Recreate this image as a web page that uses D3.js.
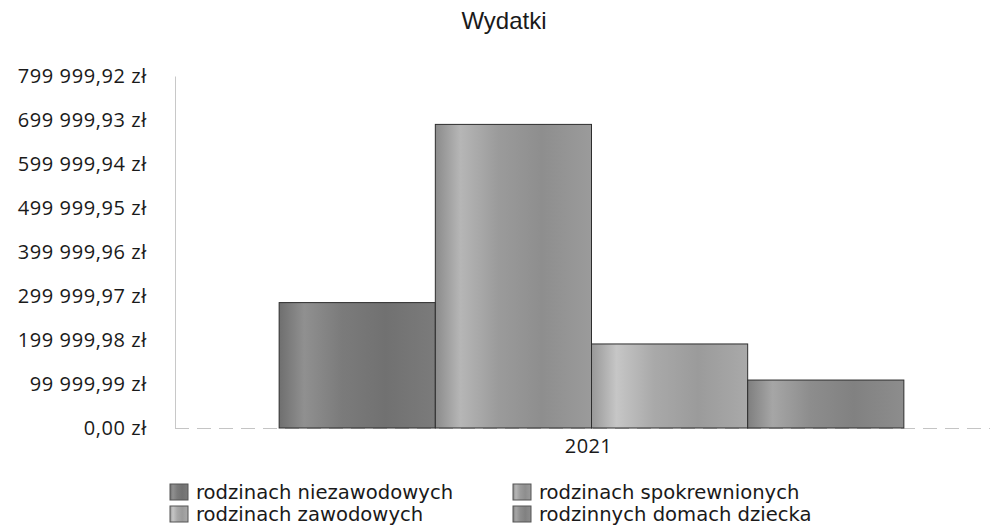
<!DOCTYPE html>
<html>
<head>
<meta charset="utf-8">
<script src="https://cdn.jsdelivr.net/npm/d3@7"></script>
<style>
  body { margin: 0; background: #fff; }
  text { font-family: "Open Sans", "Noto Sans", sans-serif; fill: #1a1a1a; }
</style>
</head>
<body>
<div id="chart"></div>
<script>
const title = 'Wydatki'
const years = ['2021']
const seriesNames = ['rodzinach niezawodowych', 'rodzinach spokrewnionych', 'rodzinach zawodowych', 'rodzinnych domach dziecka']
const seriesValues = [285000, 690000, 191000, 109000]
const tickValues = [0, 99999.99, 199999.98, 299999.97, 399999.96, 499999.95, 599999.94, 699999.93, 799999.92]
const baseColors = ['#7b7b7b', '#9b9b9b', '#a9a9a9', '#8d8d8d']

const width = 994
const height = 529
const margin = { top: 76, right: -14, bottom: 101, left: 175 }

const svg = d3.select('#chart').append('svg')
  .attr('width', width)
  .attr('height', height)

// gradients, light stripe near the left of each bar
const defs = svg.append('defs')
baseColors.forEach((c, i) => {
  const base = d3.color(c)
  const g = defs.append('linearGradient')
    .attr('id', 'grad' + i)
    .attr('x1', '0%').attr('x2', '100%').attr('y1', '0%').attr('y2', '0%')
  const stops = [
    [0, base.darker(0.3)],
    [0.16, base.brighter(0.45)],
    [0.4, base],
    [0.68, base.darker(0.25)],
    [1, base]
  ]
  stops.forEach(s => g.append('stop').attr('offset', s[0]).attr('stop-color', s[1]))
})

const y = d3.scaleLinear()
  .domain([0, tickValues[tickValues.length - 1]])
  .range([height - margin.bottom, margin.top])

const x0 = d3.scaleBand()
  .domain(years)
  .range([margin.left, width - margin.right])
  .paddingInner(0)
  .paddingOuter(0.1667)

const x1 = d3.scaleBand()
  .domain(seriesNames)
  .range([0, x0.bandwidth()])

const fmt = d => {
  const s = d3.format(',.2f')(d).replace(/,/g, ' ').replace('.', ',')
  return s + ' zł'
}

// title
svg.append('text')
  .attr('x', 504)
  .attr('y', 29)
  .attr('text-anchor', 'middle')
  .style('font-family', '"Liberation Sans", Arial, sans-serif')
  .style('font-size', '24px')
  .text(title)

// y axis
const yAxis = svg.append('g')
  .attr('transform', `translate(${margin.left},0)`)
  .call(d3.axisLeft(y).tickValues(tickValues).tickFormat(fmt).tickSize(0).tickPadding(28))
yAxis.select('.domain').attr('stroke', '#c8c8c8')
yAxis.selectAll('text')
  .style('font-size', '20px')
  .style('font-family', '"Open Sans", sans-serif')
  .style('letter-spacing', '0.6px')
  .attr('fill', '#1a1a1a')

// x baseline
svg.append('line')
  .attr('x1', margin.left)
  .attr('x2', width - 4)
  .attr('y1', y(0) + 0.5)
  .attr('y2', y(0) + 0.5)
  .attr('stroke', '#c4c4c4')
  .attr('stroke-dasharray', '14,8')

// bars
const groups = svg.selectAll('g.year')
  .data(years)
  .join('g')
  .attr('class', 'year')
  .attr('transform', d => `translate(${x0(d)},0)`)

groups.selectAll('rect')
  .data(seriesNames.map((n, i) => ({ name: n, value: seriesValues[i], i })))
  .join('rect')
  .attr('x', d => x1(d.name))
  .attr('y', d => y(d.value))
  .attr('width', x1.bandwidth())
  .attr('height', d => y(0) - y(d.value))
  .attr('fill', d => `url(#grad${d.i})`)
  .attr('stroke', '#2e2e2e')
  .attr('stroke-width', 1)

// x labels
groups.append('text')
  .attr('x', x0.bandwidth() / 2 - 3)
  .attr('y', y(0) + 25)
  .attr('text-anchor', 'middle')
  .style('font-size', '20px')
  .style('letter-spacing', '0.4px')
  .text(d => d)

// legend
const legendPos = [[170, 484], [513, 484], [170, 506], [513, 506]]
const legend = svg.append('g')
seriesNames.forEach((name, k) => {
  const p = legendPos[k]
  const item = legend.append('g').attr('transform', `translate(${p[0]},${p[1]})`)
  item.append('rect')
    .attr('width', 18)
    .attr('height', 16)
    .attr('fill', `url(#grad${k})`)
    .attr('stroke', '#555')
  item.append('text')
    .attr('x', 26)
    .attr('y', 15)
    .style('font-family', '"DejaVu Sans", sans-serif')
    .style('font-size', '19.6px')
    .text(name)
})
</script>
</body>
</html>
